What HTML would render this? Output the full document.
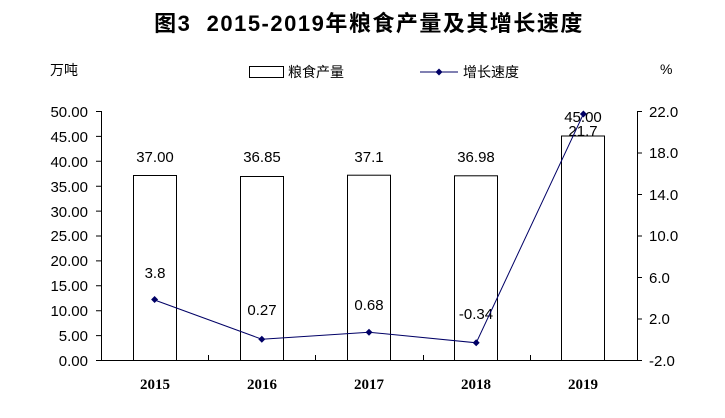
<!DOCTYPE html>
<html><head><meta charset="utf-8"><style>
body{margin:0;background:#fff}
text{font-family:"Liberation Sans","Noto Sans CJK SC",sans-serif;fill:#000}
</style></head><body>
<svg width="725" height="413" viewBox="0 0 725 413" xmlns="http://www.w3.org/2000/svg">
<text x="369" y="31" text-anchor="middle" font-size="22" font-weight="bold" letter-spacing="1.5" xml:space="preserve">图3  2015-2019年粮食产量及其增长速度</text>
<text x="50" y="75" font-size="14">万吨</text>
<text x="660" y="74" font-size="14">%</text>
<rect x="249.5" y="66.5" width="34" height="11" fill="#fff" stroke="#000"/>
<text x="288" y="77" font-size="14">粮食产量</text>
<line x1="420" y1="72" x2="458" y2="72" stroke="#000066"/>
<path d="M439 68.5L442.5 72L439 75.5L435.5 72Z" fill="#000066"/>
<text x="463" y="77" font-size="14">增长速度</text>
<g stroke="#000" fill="none">
<line x1="101.5" y1="111" x2="101.5" y2="360"/>
<line x1="637.5" y1="111" x2="637.5" y2="360"/>
<line x1="101" y1="360.5" x2="638" y2="360.5"/>
<path d="M96 111.5h5M96 136.4h5M96 161.3h5M96 186.2h5M96 211.1h5M96 236h5M96 260.9h5M96 285.8h5M96 310.7h5M96 335.6h5M96 360.5h5"/>
<path d="M637 111.5h5M637 153h5M637 194.5h5M637 236h5M637 277.5h5M637 319h5M637 360.5h5"/>
<path d="M208.5 355v5M315.5 355v5M423.5 355v5M530.5 355v5"/>
<rect x="133.5" y="175.5" width="43" height="185"/>
<rect x="240.5" y="176.5" width="43" height="184"/>
<rect x="347.5" y="175.2" width="43" height="185.3"/>
<rect x="454.5" y="175.8" width="43" height="184.7"/>
<rect x="561.5" y="136" width="43" height="224.5"/>
</g>
<g font-size="15" text-anchor="end">
<text x="88" y="117">50.00</text><text x="88" y="142">45.00</text><text x="88" y="167">40.00</text><text x="88" y="192">35.00</text><text x="88" y="217">30.00</text><text x="88" y="241">25.00</text><text x="88" y="266">20.00</text><text x="88" y="291">15.00</text><text x="88" y="316">10.00</text><text x="88" y="341">5.00</text><text x="88" y="366">0.00</text>
</g>
<g font-size="15">
<text x="649" y="117">22.0</text><text x="649" y="158">18.0</text><text x="649" y="200">14.0</text><text x="649" y="241">10.0</text><text x="649" y="283">6.0</text><text x="649" y="324">2.0</text><text x="649" y="366">-2.0</text>
</g>
<g font-size="15" text-anchor="middle" font-weight="bold">
<text x="155" y="389" style="font-family:'Liberation Serif',serif">2015</text><text x="262" y="389" style="font-family:'Liberation Serif',serif">2016</text><text x="369" y="389" style="font-family:'Liberation Serif',serif">2017</text><text x="476" y="389" style="font-family:'Liberation Serif',serif">2018</text><text x="583" y="389" style="font-family:'Liberation Serif',serif">2019</text>
</g>
<g font-size="15" text-anchor="middle">
<text x="155" y="162">37.00</text><text x="262" y="162">36.85</text><text x="369" y="162">37.1</text><text x="476" y="162">36.98</text><text x="583" y="122">45.00</text>
<text x="155" y="278">3.8</text><text x="262" y="315">0.27</text><text x="369" y="310">0.68</text><text x="476" y="319">-0.34</text><text x="583" y="136">21.7</text>
</g>
<polyline points="154.6,300 261.8,339.2 369,332.2 476.2,342.8 583.4,114" fill="none" stroke="#000066"/>
<g fill="#000066">
<path d="M154.6 296l3.5 3.5-3.5 3.5-3.5-3.5z"/>
<path d="M261.8 335.7l3.5 3.5-3.5 3.5-3.5-3.5z"/>
<path d="M369 328.7l3.5 3.5-3.5 3.5-3.5-3.5z"/>
<path d="M476.2 339.3l3.5 3.5-3.5 3.5-3.5-3.5z"/>
<path d="M583.4 110.5l3.5 3.5-3.5 3.5-3.5-3.5z"/>
</g>
</svg>
</body></html>
